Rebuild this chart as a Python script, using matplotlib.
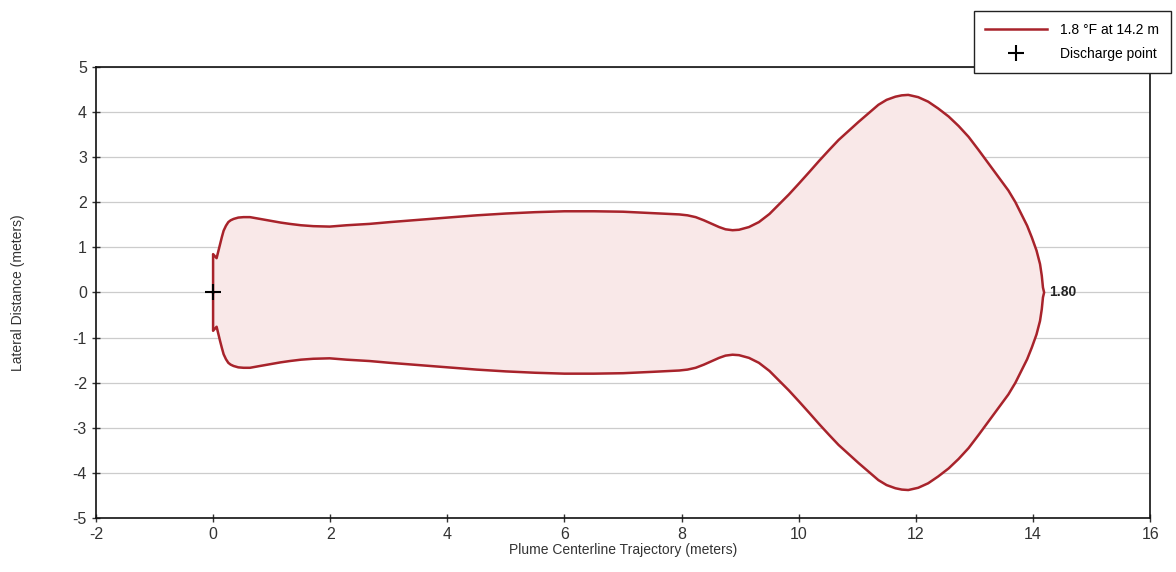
import numpy as np
import matplotlib.pyplot as plt

plt.rcParams['font.family'] = ['Liberation Sans', 'DejaVu Sans']
plt.rcParams['axes.unicode_minus'] = False

# upper half of the 1.8 °F plume outline (meters); the plume is symmetric about y = 0
outline_x = [0.0, 0.0, 0.06, 0.09, 0.12, 0.15, 0.18, 0.22, 0.26, 0.3, 0.35, 0.43, 0.52, 0.63,
             0.8, 0.97, 1.15, 1.31, 1.5, 1.71, 1.99, 2.28, 2.67, 3.02, 3.5, 4.0, 4.5, 5.0,
             5.5, 6.0, 6.5, 7.0, 7.5, 7.96, 8.1, 8.24, 8.38, 8.52, 8.64, 8.75, 8.87, 8.98,
             9.15, 9.32, 9.5, 9.66, 9.83, 10.0, 10.18, 10.35, 10.52, 10.68, 10.85, 11.02,
             11.2, 11.36, 11.5, 11.65, 11.76, 11.87, 12.04, 12.21, 12.38, 12.56, 12.73, 12.9,
             13.07, 13.24, 13.41, 13.58, 13.7, 13.8, 13.9, 13.98, 14.06, 14.12, 14.15, 14.17,
             14.19]
outline_y = [0.0, 0.85, 0.76, 0.92, 1.08, 1.23, 1.37, 1.48, 1.56, 1.6, 1.63, 1.66, 1.67, 1.67,
             1.63, 1.59, 1.55, 1.52, 1.49, 1.47, 1.46, 1.49, 1.52, 1.56, 1.61, 1.66, 1.71, 1.75,
             1.78, 1.80, 1.80, 1.79, 1.76, 1.73, 1.71, 1.67, 1.60, 1.52, 1.45, 1.40, 1.38, 1.39,
             1.45, 1.56, 1.74, 1.95, 2.17, 2.41, 2.67, 2.92, 3.16, 3.38, 3.58, 3.78,
             3.98, 4.16, 4.27, 4.34, 4.37, 4.38, 4.33, 4.23, 4.08, 3.90, 3.69, 3.45,
             3.16, 2.86, 2.56, 2.26, 2.0, 1.74, 1.48, 1.22, 0.93, 0.63, 0.37, 0.11,
             0.0]

contour_label = "1.80"
label_pos = (14.27, 0.0)
legend_labels = ["1.8 °F at 14.2 m", "Discharge point"]
discharge = (0.0, 0.0)

xs = np.array(outline_x)
ys = np.array(outline_y)
# go round: upper half left->right, lower half right->left
px = np.concatenate([xs, xs[::-1]])
py = np.concatenate([ys, -ys[::-1]])

fig = plt.figure(figsize=(11.76, 5.72), dpi=100)
ax = fig.add_axes([0.0816, 0.0944, 0.8964, 0.7886])

line_color = '#a8232b'
ax.fill(px, py, color='#f9e8e8', zorder=1)
line, = ax.plot(px, py, color=line_color, lw=1.8, zorder=3, solid_joinstyle='round')
mark, = ax.plot(*discharge, marker='+', color='black', ms=12, mew=1.5, ls='none', zorder=4)
ax.text(label_pos[0], label_pos[1], contour_label, fontsize=10, fontweight='bold',
        va='center', ha='left', color='#222222', zorder=5)

ax.set_xlim(-2, 16)
ax.set_ylim(-5, 5)
ax.set_xticks(range(-2, 17, 2))
ax.set_yticks(range(-5, 6, 1))
ax.yaxis.grid(True, color='#cccccc', lw=0.9)
ax.set_axisbelow(True)
ax.tick_params(direction='inout', length=6, width=1, labelsize=11.5, colors='#333333')
for s in ax.spines.values():
    s.set_color('#111111')
    s.set_linewidth(1.2)

ax.set_xlabel('Plume Centerline Trajectory (meters)', fontsize=10, color='#333333', labelpad=1)
ax.set_ylabel('Lateral Distance (meters)', fontsize=10, color='#333333', labelpad=34)

leg = fig.legend([line, mark], legend_labels, loc='upper right', bbox_to_anchor=(0.9995, 0.988),
                 fontsize=10, frameon=True, fancybox=False, edgecolor='#222222', framealpha=1,
                 handlelength=4.4, borderpad=0.85, labelspacing=0.75, handletextpad=1.0,
                 borderaxespad=0.3)
leg.get_frame().set_linewidth(1.0)

fig.savefig('out.png', dpi=100)
